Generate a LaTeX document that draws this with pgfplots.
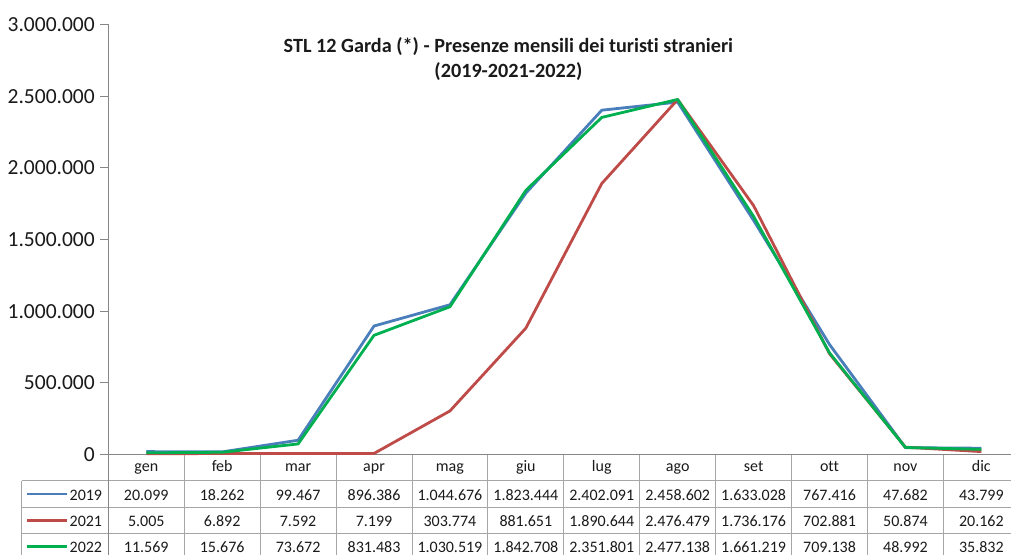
\documentclass[border=0pt]{standalone}
\usepackage{pgfplots}
\pgfplotsset{compat=1.18}
\usepackage{pgfplotstable}
\usepackage{fontspec}
\setmainfont[RawFeature={-liga;-clig;-calt;-dlig}]{Carlito}
\definecolor{c19}{HTML}{4A7EBB}
\definecolor{c21}{HTML}{BE4B48}
\definecolor{c22}{HTML}{00B050}
\definecolor{gridc}{HTML}{A6A6A6}
\definecolor{axc}{HTML}{868686}
\definecolor{txt}{HTML}{1A1A1A}

\pgfplotstableread{
m y2019 y2021 y2022
0 20099 5005 11569
1 18262 6892 15676
2 99467 7592 73672
3 896386 7199 831483
4 1044676 303774 1030519
5 1823444 881651 1842708
6 2402091 1890644 2351801
7 2458602 2476479 2477138
8 1633028 1736176 1661219
9 767416 702881 709138
10 47682 50874 48992
11 43799 20162 35832
}\data

\newcommand\tabfont{\fontsize{16}{16}\selectfont}
\newcommand\cell[2]{\pgfplotstablegetelem{#1}{#2}\of\data\pgfmathprintnumber[fixed,precision=0,1000 sep={.},assume math mode=true]{\pgfplotsretval}}

\begin{document}
\begin{tikzpicture}[x=1pt,y=1pt]
\useasboundingbox (0,0) rectangle (1011,554);
\clip (0,0) rectangle (1011,554);
\begin{axis}[
  at={(108.3pt,99.5pt)}, anchor=south west,
  scale only axis, width=911pt, height=430pt,
  xmin=-0.5, xmax=11.5, ymin=0, ymax=3000000,
  axis lines*=left,
  axis line style={draw=axc, line width=0.8pt},
  clip=false,
  ytick={0,500000,1000000,1500000,2000000,2500000,3000000},
  scaled y ticks=false,
  yticklabel style={/pgf/number format/.cd, fixed, precision=0, 1000 sep={.}, assume math mode=true, /tikz/.cd,
     font=\fontsize{21.5}{21.5}\selectfont, text=txt, xshift=-2pt},
  ytick style={draw=axc, line width=0.8pt},
  major tick length=8pt, tick align=outside,
  xtick={0,...,11},
  xticklabels={gen,feb,mar,apr,mag,giu,lug,ago,set,ott,nov,dic},
  xtick style={draw=none},
  xticklabel style={font=\tabfont, text=txt, anchor=base, yshift=-9pt},
]
\addplot[c19, line width=2.8pt, mark=none, line join=round] table[x=m, y=y2019]{\data};
\addplot[c21, line width=2.8pt, mark=none, line join=round] table[x=m, y=y2021]{\data};
\addplot[c22, line width=2.8pt, mark=none, line join=round] table[x=m, y=y2022]{\data};

% data table grid
\pgfplotsinvokeforeach{26,52.5,79,105.5}{
  \draw[gridc, line width=0.8pt] ([xshift=-86.6pt, yshift=-#1pt]axis cs:-0.5,0) -- ([yshift=-#1pt]axis cs:11.5,0);
}
\draw[gridc, line width=0.8pt] ([xshift=-86.6pt, yshift=-26pt]axis cs:-0.5,0) -- ([xshift=-86.6pt, yshift=-110pt]axis cs:-0.5,0);
\draw[axc, line width=0.8pt] (axis cs:-0.5,0) -- ([yshift=-110pt]axis cs:-0.5,0);
\pgfplotsinvokeforeach{0,...,11}{
  \draw[gridc, line width=0.8pt] (axis cs:#1+0.5,0) -- ([yshift=-110pt]axis cs:#1+0.5,0);
  \node[font=\tabfont, text=txt, anchor=base, inner sep=0pt] at ([yshift=-45.5pt]axis cs:#1,0) {\cell{#1}{y2019}};
  \node[font=\tabfont, text=txt, anchor=base, inner sep=0pt] at ([yshift=-72pt]axis cs:#1,0) {\cell{#1}{y2021}};
  \node[font=\tabfont, text=txt, anchor=base, inner sep=0pt] at ([yshift=-97.5pt]axis cs:#1,0) {\cell{#1}{y2022}};
}
% legend keys
\draw[c19, line width=2.8pt] ([xshift=-81pt, yshift=-39.5pt]axis cs:-0.5,0) -- ([xshift=-41pt, yshift=-39.5pt]axis cs:-0.5,0);
\draw[c21, line width=2.8pt] ([xshift=-81pt, yshift=-66pt]axis cs:-0.5,0) -- ([xshift=-41pt, yshift=-66pt]axis cs:-0.5,0);
\draw[c22, line width=2.8pt] ([xshift=-81pt, yshift=-92pt]axis cs:-0.5,0) -- ([xshift=-41pt, yshift=-92pt]axis cs:-0.5,0);
\node[font=\tabfont, text=txt, anchor=base east, inner sep=0pt] at ([xshift=-6pt, yshift=-45.5pt]axis cs:-0.5,0) {2019};
\node[font=\tabfont, text=txt, anchor=base east, inner sep=0pt] at ([xshift=-6pt, yshift=-72pt]axis cs:-0.5,0) {2021};
\node[font=\tabfont, text=txt, anchor=base east, inner sep=0pt] at ([xshift=-6pt, yshift=-97.5pt]axis cs:-0.5,0) {2022};
% title
\node[font=\fontsize{20.2}{25}\selectfont\bfseries, text=txt, align=center, anchor=north] at ([yshift=-9pt]axis cs:4.77,3000000) {STL 12 Garda (*) - Presenze mensili dei turisti stranieri\\(2019-2021-2022)};
\end{axis}
\end{tikzpicture}
\end{document}
